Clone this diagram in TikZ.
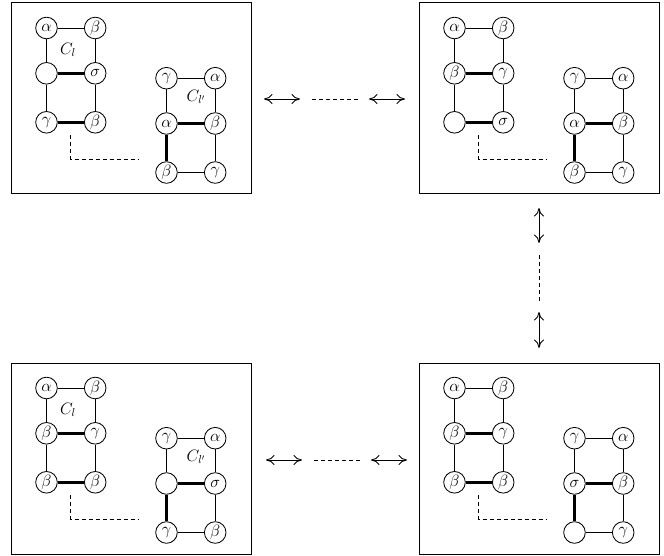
\RequirePackage{fix-cm}
\documentclass[tikz,border=0pt]{standalone}
\usetikzlibrary{arrows.meta}

\tikzset{
  vtx/.style={circle,draw,line width=0.85pt,minimum size=21.6pt,inner sep=0pt,
    font=\fontsize{16.5}{19}\selectfont},
  edge/.style={line width=0.85pt},
  bold/.style={line width=3pt},
  frame/.style={draw,line width=1pt},
  link/.style={line width=0.85pt,dash pattern=on 4pt off 3pt},
  dbl/.style={line width=0.9pt,{Computer Modern Rightarrow[length=8.5pt,width=10pt]}-{Computer Modern Rightarrow[length=8.5pt,width=10pt]}},
  lbl/.style={font=\fontsize{16.5}{19}\selectfont,inner sep=0pt},
}

% six vertices of a ladder: #1 prefix, #2 shift, #3..#8 labels row by row
\newcommand\ladnodes[8]{%
  \begin{scope}[shift={#2}]
    \node[vtx] (#1-11) at (0,0)        {$#3$};
    \node[vtx] (#1-12) at (48.7,0)     {$#4$};
    \node[vtx] (#1-21) at (0,45.3)     {$#5$};
    \node[vtx] (#1-22) at (48.7,45.3)  {$#6$};
    \node[vtx] (#1-31) at (0,94.3)     {$#7$};
    \node[vtx] (#1-32) at (48.7,94.3)  {$#8$};
  \end{scope}}

% ladder with its two lower rungs heavy
\newcommand\ladderA[8]{%
  \ladnodes{#1}{#2}{#3}{#4}{#5}{#6}{#7}{#8}%
  \draw[edge] (#1-11) -- (#1-12);
  \draw[edge] (#1-11) -- (#1-21);
  \draw[edge] (#1-21) -- (#1-31);
  \draw[edge] (#1-12) -- (#1-22);
  \draw[edge] (#1-22) -- (#1-32);
  \draw[bold] (#1-21) -- (#1-22);
  \draw[bold] (#1-31) -- (#1-32);}

% ladder with heavy middle rung and heavy lower-left side
\newcommand\ladderB[8]{%
  \ladnodes{#1}{#2}{#3}{#4}{#5}{#6}{#7}{#8}%
  \draw[edge] (#1-11) -- (#1-12);
  \draw[edge] (#1-11) -- (#1-21);
  \draw[edge] (#1-12) -- (#1-22);
  \draw[edge] (#1-22) -- (#1-32);
  \draw[edge] (#1-31) -- (#1-32);
  \draw[bold] (#1-21) -- (#1-22);
  \draw[bold] (#1-21) -- (#1-31);}

% frame plus the dashed link between the two ladders
\newcommand\frameandlink[1]{%
  \draw[frame] (0,0) rectangle (240,191);
  \coordinate (#1-d1) at (59.7,132);
  \coordinate (#1-d2) at (59.7,156);
  \coordinate (#1-d3) at (127.3,156);
  \draw[link] (#1-d1) -- (#1-d2) -- (#1-d3);}

\begin{document}
\begin{tikzpicture}[x=1pt,y=-1pt]
  \useasboundingbox (0,0) rectangle (664,556);

  % top left
  \begin{scope}[shift={(11,3)}]
    \frameandlink{p}
    \ladderA{pa}{(35.5,25)}{\alpha}{\beta}{}{\sigma}{\gamma}{\beta}
    \ladderB{pb}{(155.5,75.2)}{\gamma}{\alpha}{\alpha}{\beta}{\beta}{\gamma}
    \node[lbl] (p-cl) at (57,47) {$C_l$};
    \node[lbl] (p-clp) at (185,94) {$C_{l'}$};
  \end{scope}

  % top right
  \begin{scope}[shift={(419,3)}]
    \frameandlink{q}
    \ladderA{qa}{(35.5,25)}{\alpha}{\beta}{\beta}{\gamma}{}{\sigma}
    \ladderB{qb}{(155.5,75.2)}{\gamma}{\alpha}{\alpha}{\beta}{\beta}{\gamma}
  \end{scope}

  % bottom left
  \begin{scope}[shift={(11,363)}]
    \frameandlink{r}
    \ladderA{ra}{(35.5,25)}{\alpha}{\beta}{\beta}{\gamma}{\beta}{\beta}
    \ladderB{rb}{(155.5,75.2)}{\gamma}{\alpha}{}{\sigma}{\gamma}{\beta}
    \node[lbl] (r-cl) at (57,47) {$C_l$};
    \node[lbl] (r-clp) at (185,94) {$C_{l'}$};
  \end{scope}

  % bottom right
  \begin{scope}[shift={(419,363)}]
    \frameandlink{s}
    \ladderA{sa}{(35.5,25)}{\alpha}{\beta}{\beta}{\gamma}{\beta}{\beta}
    \ladderB{sb}{(155.5,75.2)}{\gamma}{\alpha}{\sigma}{\beta}{}{\gamma}
  \end{scope}

  % transitions: top row
  \coordinate (t1) at (264,99);  \coordinate (t2) at (300,99);
  \coordinate (t3) at (312,99);  \coordinate (t4) at (359,99);
  \coordinate (t5) at (369,99);  \coordinate (t6) at (405,99);
  \draw[dbl] (t1) -- (t2);
  \draw[link] (t3) -- (t4);
  \draw[dbl] (t5) -- (t6);

  % transitions: right column
  \coordinate (v1) at (539,208); \coordinate (v2) at (539,243);
  \coordinate (v3) at (539,255); \coordinate (v4) at (539,302);
  \coordinate (v5) at (539,312); \coordinate (v6) at (539,348);
  \draw[dbl] (v1) -- (v2);
  \draw[link] (v3) -- (v4);
  \draw[dbl] (v5) -- (v6);

  % transitions: bottom row
  \coordinate (b1) at (266,460); \coordinate (b2) at (302,460);
  \coordinate (b3) at (314,460); \coordinate (b4) at (361,460);
  \coordinate (b5) at (371,460); \coordinate (b6) at (407,460);
  \draw[dbl] (b1) -- (b2);
  \draw[link] (b3) -- (b4);
  \draw[dbl] (b5) -- (b6);
\end{tikzpicture}
\end{document}
